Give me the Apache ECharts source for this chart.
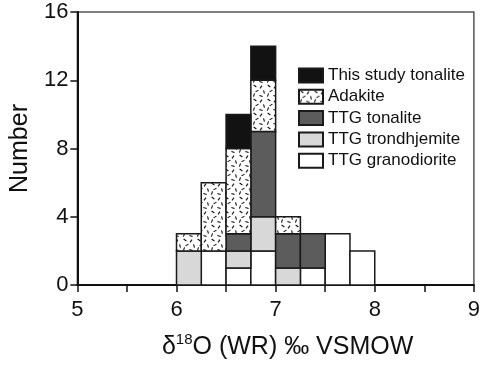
<!DOCTYPE html>
<html>
<head>
<meta charset="utf-8">
<script src="https://cdn.jsdelivr.net/npm/echarts@6/dist/echarts.min.js"></script>
<style>html,body{margin:0;padding:0;background:#fff;}#c{width:483px;height:365px;}</style>
</head>
<body>
<div id="c"></div>
<script>
// Bin start values (δ18O, bin width 0.25)
var binStarts = [6.0, 6.25, 6.5, 6.75, 7.0, 7.25, 7.5, 7.75];
var binWidth = 0.25;
// Counts per bin, stacked bottom -> top
var granodiorite = [0, 2, 1, 2, 0, 1, 3, 2];
var trondhjemite = [2, 0, 1, 2, 1, 0, 0, 0];
var ttgTonalite  = [0, 0, 1, 5, 2, 2, 0, 0];
var adakite      = [1, 4, 5, 3, 1, 0, 0, 0];
var thisStudy    = [0, 0, 2, 2, 0, 0, 0, 0];
var xTicks = [5, 6, 7, 8, 9];
var yTicks = [0, 4, 8, 12, 16];

// dashed pattern for adakite
function makePattern() {
  var c = document.createElement('canvas');
  c.width = 14; c.height = 14;
  var g = c.getContext('2d');
  g.fillStyle = '#fff'; g.fillRect(0, 0, 14, 14);
  g.strokeStyle = '#111'; g.lineWidth = 1.1;
  var marks = [[3,2,0.6],[9,3,2.2],[12,8,1.3],[5,7,2.6],[9,12,0.3],[2,11,1.9]];
  marks.forEach(function (m) {
    var dx = Math.cos(m[2]) * 1.7, dy = Math.sin(m[2]) * 1.7;
    g.beginPath(); g.moveTo(m[0] - dx, m[1] - dy); g.lineTo(m[0] + dx, m[1] + dy); g.stroke();
  });
  return c;
}
var pattern = { image: makePattern(), repeat: 'repeat' };

var layers = [
  { name: 'TTG granodiorite', data: granodiorite, color: '#ffffff' },
  { name: 'TTG trondhjemite', data: trondhjemite, color: '#d8d8d8' },
  { name: 'TTG tonalite', data: ttgTonalite, color: '#5c5c5c' },
  { name: 'Adakite', data: adakite, color: pattern },
  { name: 'This study tonalite', data: thisStudy, color: '#121212' }
];

var base = binStarts.map(function () { return 0; });
var series = layers.map(function (L) {
  var d = [];
  binStarts.forEach(function (s, i) {
    if (L.data[i] > 0) {
      d.push([s, s + binWidth, base[i], base[i] + L.data[i]]);
    }
    base[i] += L.data[i];
  });
  return {
    type: 'custom',
    name: L.name,
    itemStyle: { color: L.color, borderColor: '#1a1a1a', borderWidth: 1.5 },
    encode: { x: [0, 1], y: [2, 3] },
    data: d,
    renderItem: function (params, api) {
      var p0 = api.coord([api.value(0), api.value(3)]);
      var p1 = api.coord([api.value(1), api.value(2)]);
      return {
        type: 'rect',
        shape: { x: p0[0], y: p0[1], width: p1[0] - p0[0], height: p1[1] - p0[1] },
        style: { fill: L.color, stroke: '#1a1a1a', lineWidth: 1.5 }
      };
    }
  };
});

var chart = echarts.init(document.getElementById('c'), null, { renderer: 'canvas' });
var font = '"Liberation Sans", Arial, sans-serif';
chart.setOption({
  animation: false,
  backgroundColor: '#fff',
  grid: { left: 76, right: 7, top: 12, bottom: 79, show: true, borderColor: '#555', borderWidth: 1.5 },
  legend: {
    orient: 'vertical', left: 298, top: 67, padding: 0,
    icon: 'rect',
    itemWidth: 24, itemHeight: 14, itemGap: 4.3,
    data: ['This study tonalite', 'Adakite', 'TTG tonalite', 'TTG trondhjemite', 'TTG granodiorite'],
    textStyle: { fontFamily: font, fontSize: 17, color: '#111' },
    selectedMode: false
  },
  xAxis: {
    type: 'value', min: 5, max: 9, interval: 0.5,
    axisLine: { show: true, onZero: false, lineStyle: { color: '#111', width: 2 } },
    axisTick: { show: true, length: 7, lineStyle: { color: '#111', width: 1.5 } },
    splitLine: { show: false },
    axisLabel: {
      fontFamily: font, fontSize: 22, color: '#111', margin: 14,
      formatter: function (v) { return xTicks.indexOf(v) >= 0 ? String(v) : ''; }
    },
    name: '{a|δ}{s|18}{a|O (WR) ‰ VSMOW}',
    nameLocation: 'middle', nameGap: 47,
    nameTextStyle: {
      fontFamily: font, fontSize: 25, color: '#111', padding: [0, 0, 0, 24],
      rich: {
        a: { fontFamily: font, fontSize: 25, color: '#111' },
        s: { fontFamily: font, fontSize: 15, color: '#111', padding: [0, 0, 16, 0] }
      }
    }
  },
  yAxis: {
    type: 'value', min: 0, max: 16, interval: 4,
    axisLine: { show: true, lineStyle: { color: '#111', width: 2 } },
    axisTick: { show: true, length: 7, lineStyle: { color: '#111', width: 1.5 } },
    splitLine: { show: false },
    axisLabel: {
      fontFamily: font, fontSize: 22, color: '#111', margin: 9,
      formatter: function (v) { return yTicks.indexOf(v) >= 0 ? String(v) : ''; }
    },
    name: 'Number', nameLocation: 'middle', nameGap: 42,
    nameTextStyle: { fontFamily: font, fontSize: 25, color: '#111' }
  },
  series: series
});
</script>
</body>
</html>
